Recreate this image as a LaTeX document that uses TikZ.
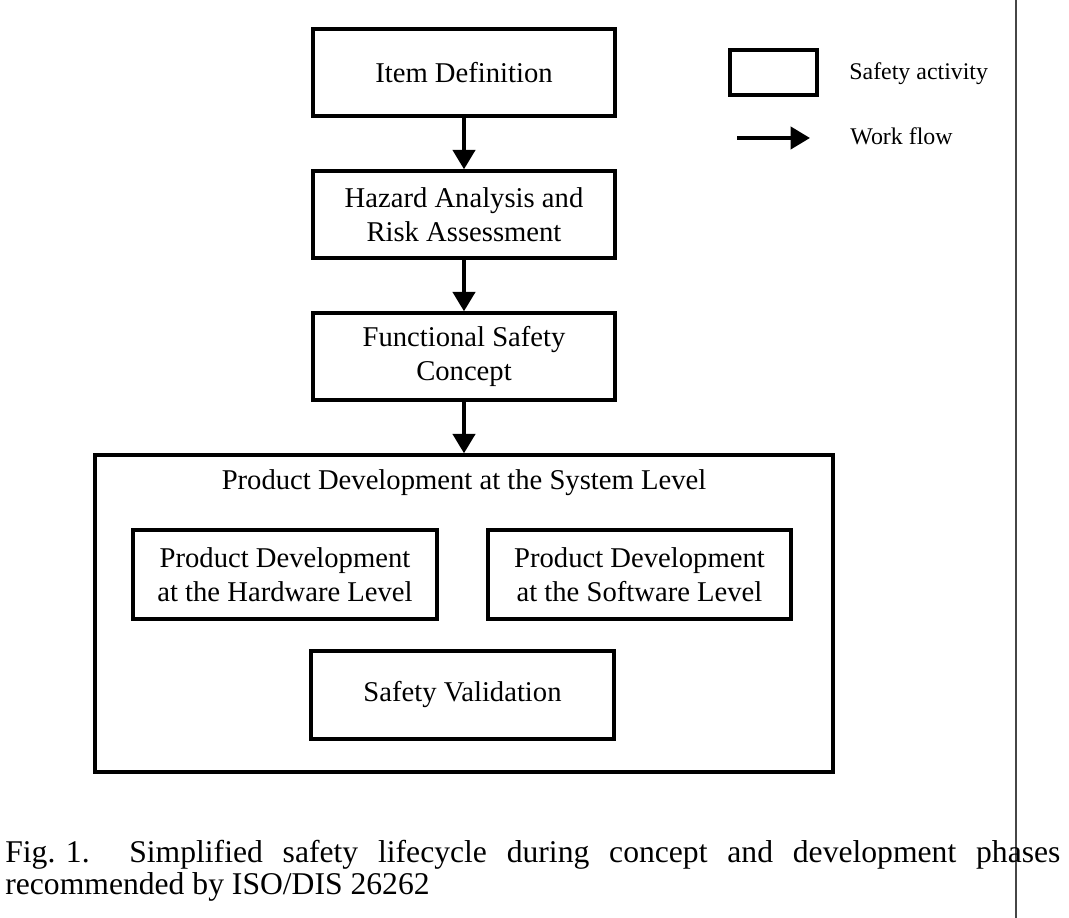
\documentclass[tikz,border=0pt]{standalone}
\usepackage{fontspec}
\setmainfont{Liberation Serif}
\usetikzlibrary{shapes,arrows.meta,positioning,calc}
\definecolor{bordercolor}{RGB}{0,0,0}
\definecolor{arrowcolor}{RGB}{0,0,0}
\definecolor{rulecolor}{RGB}{70,70,70}
\tikzset{
    activity/.style={
        rectangle,
        minimum width=6.04cm,
        minimum height=1.74cm,
        align=center,
        draw=bordercolor,
        line width=1.9pt,
        inner sep=0pt,
        font=\fontsize{16.3}{19.3}\selectfont
    },
    groupbox/.style={activity, minimum width=14.76cm, minimum height=6.34cm},
    legendbox/.style={activity, minimum width=1.74cm, minimum height=0.9cm},
    boxtitle/.style={inner sep=0pt, font=\fontsize{16.3}{19.3}\selectfont},
    flow/.style={-{Triangle[length=11pt,width=12.5pt]}, line width=2.3pt, color=arrowcolor},
    legendtext/.style={anchor=base west, inner sep=0pt, font=\fontsize{13.6}{16}\selectfont},
    captiontext/.style={anchor=base west, inner sep=0pt, font=\fontsize{18}{20}\selectfont}
}
\begin{document}
\begin{tikzpicture}
    \useasboundingbox (0,0) rectangle (21.38,18.36);

    % Lifecycle steps
    \node[activity] (item) at (9.28,16.91) {Item Definition};
    \node[activity] (hara) at (9.28,14.07) {Hazard Analysis and\\Risk Assessment};
    \node[activity] (fsc) at (9.28,11.23) {Functional Safety\\Concept};

    % System level block
    \node[groupbox] (system) at (9.28,6.09) {};
    \node[boxtitle] (systitle) at (9.28,8.70) {Product Development at the System Level};
    \node[activity, minimum width=6.08cm, minimum height=1.78cm] (hw) at (5.70,6.87)
          {Product Development\\at the Hardware Level};
    \node[activity, minimum width=6.06cm, minimum height=1.78cm] (sw) at (12.79,6.87)
          {Product Development\\at the Software Level};
    \node[activity, minimum width=6.06cm, minimum height=1.76cm] (valid) at (9.25,4.46)
          {Safety Validation};

    % Arrows
    \draw[flow] (item) -- (hara);
    \draw[flow] (hara) -- (fsc);
    \draw[flow] (fsc) -- (system);

    % Legend
    \node[legendbox] (legbox) at (15.47,16.91) {};
    \node[legendtext] (legact) at (16.98,16.76) {Safety activity};
    \coordinate (flowstart) at (14.74,15.60);
    \coordinate (flowend) at (16.20,15.60);
    \draw[flow] (flowstart) -- (flowend);
    \node[legendtext] (legflow) at (17.00,15.46) {Work flow};

    % Column rule
    \coordinate (ruletop) at (20.32,18.36);
    \coordinate (rulebot) at (20.32,0);
    \draw[rulecolor, line width=0.9pt] (ruletop) -- (rulebot);

    % Caption
    \node[captiontext] (cap1) at (0.10,1.10)
          {\makebox[21.1cm][s]{\hbox{Fig. 1.}\ \ Simplified safety lifecycle during concept and development phases}};
    \node[captiontext] (cap2) at (0.10,0.46) {recommended by ISO/DIS 26262};
\end{tikzpicture}
\end{document}
